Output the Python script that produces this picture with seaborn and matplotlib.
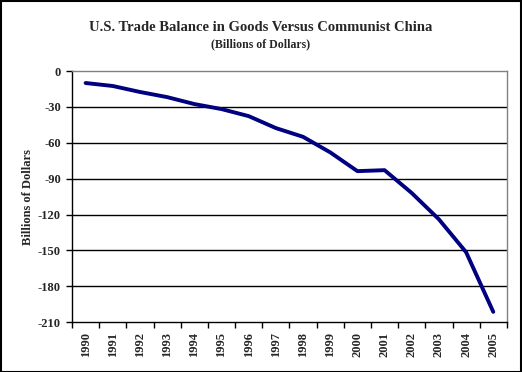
"""
U.S. trade balance in goods vs China, 1990-2005
"""

import numpy as np
import pandas as pd
import seaborn as sns
import matplotlib.pyplot as plt
from matplotlib.patches import Rectangle

# dados
years = [1990, 1991, 1992, 1993, 1994, 1995, 1996, 1997,
         1998, 1999, 2000, 2001, 2002, 2003, 2004, 2005]
balance = [-10.0, -12.5, -17.5, -21.8, -27.6, -31.8, -37.7, -47.7,
           -55.0, -68.0, -83.7, -82.9, -102.0, -124.0, -151.5, -201.4]
y_ticks = [0, -30, -60, -90, -120, -150, -180, -210]

df = pd.DataFrame({'ano': years, 'saldo': balance})

sns.set_style('white')
plt.rcParams['font.family'] = ['Liberation Serif', 'DejaVu Serif']
plt.rcParams['font.weight'] = 'bold'

fig = plt.figure(figsize=(5.22, 3.72), dpi=100)
ax = fig.add_axes([0.138, 0.134, 0.833, 0.675])

sns.lineplot(data=df, x='ano', y='saldo', ax=ax, color='#000080', linewidth=2.8)

ax.set_xlim(years[0] - 0.5, years[-1] + 0.5)
ax.set_ylim(y_ticks[-1], y_ticks[0])
ax.set_yticks(y_ticks)
ax.set_yticklabels([str(v) for v in y_ticks], fontsize=9, fontweight='bold')

# ticks nos limites das categorias, labels no centro
ax.set_xticks(np.arange(years[0] - 0.5, years[-1] + 1, 1.0))
ax.set_xticklabels([])
ax.set_xticks(years, minor=True)
ax.set_xticklabels([str(y) for y in years], minor=True, rotation=90,
                   fontsize=9, fontweight='bold')
ax.tick_params(axis='x', which='major', direction='out', length=4, width=1, color='black')
ax.tick_params(axis='x', which='minor', length=0, pad=7)
ax.tick_params(axis='y', direction='out', length=4, width=1, color='black', pad=4)
ax.xaxis.set_ticks_position('bottom')
ax.yaxis.set_ticks_position('left')

for v in y_ticks[1:-1]:
    ax.axhline(v, color='black', linewidth=1, zorder=0)

ax.spines['left'].set_color('black')
ax.spines['bottom'].set_color('black')
ax.spines['top'].set_color('#808080')
ax.spines['right'].set_color('#808080')
for s in ax.spines.values():
    s.set_linewidth(1)

ax.set_xlabel('')
ax.set_ylabel('Billions of Dollars', fontsize=9, fontweight='bold', labelpad=3)

fig.text(0.5, 0.927, 'U.S. Trade Balance in Goods Versus Communist China',
         ha='center', va='center', fontsize=10.5)
fig.text(0.5, 0.88, '(Billions of Dollars)', ha='center', va='center',
         fontsize=8.5, fontweight='bold')

fig.patches.append(Rectangle((0.001, 0.001), 0.997, 0.996, transform=fig.transFigure,
                             fill=False, edgecolor='black', linewidth=1.5))

plt.savefig('out.png', dpi=100)
